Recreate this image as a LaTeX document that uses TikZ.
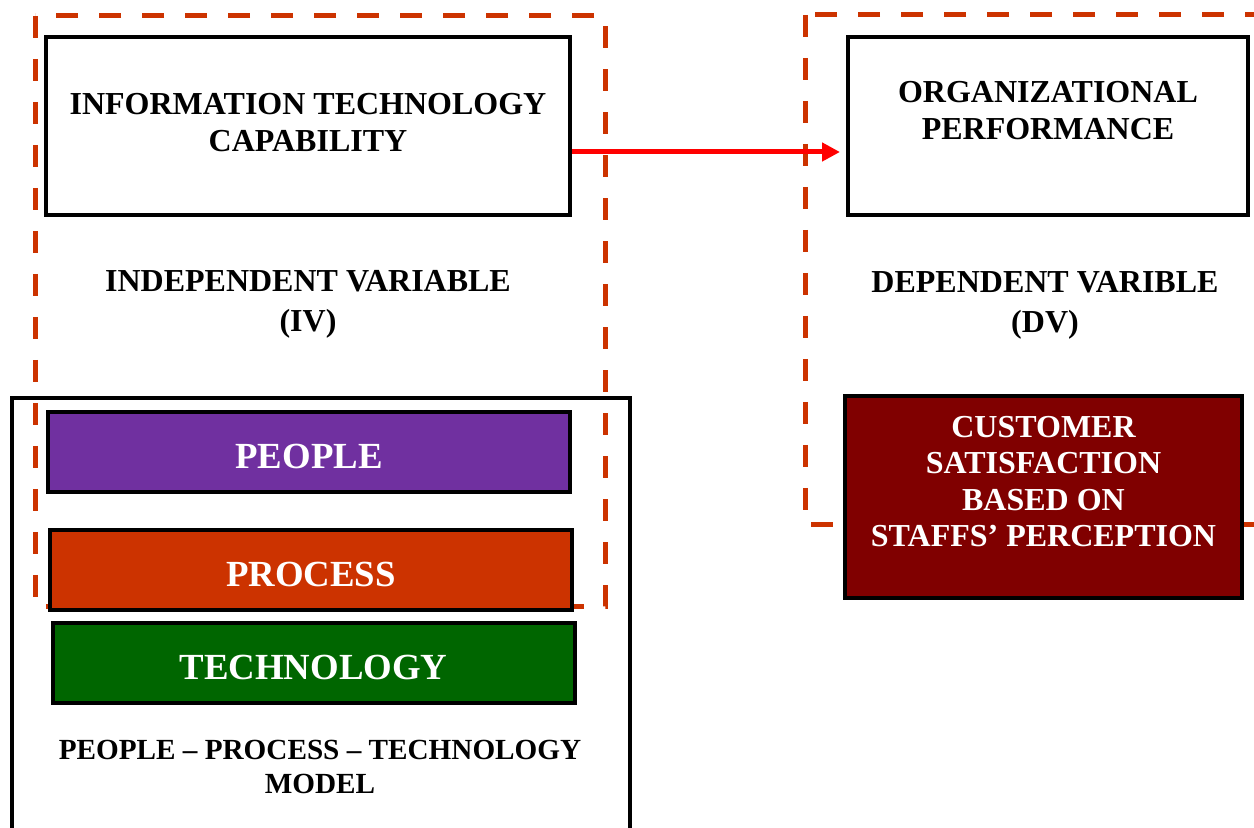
\documentclass[tikz,border=0pt]{standalone}
\usepackage{fontspec}
\setmainfont{Liberation Serif}
\usepackage{tikz}
\usetikzlibrary{arrows.meta}
\definecolor{dashred}{HTML}{CC3300}
\definecolor{peoplecol}{HTML}{7030A0}
\definecolor{processcol}{HTML}{CC3300}
\definecolor{techcol}{HTML}{006600}
\definecolor{custcol}{HTML}{800000}

\begin{document}
\begin{tikzpicture}[x=0.5pt,y=-0.5pt,>={Triangle[length=9pt,width=9pt]},
  dash box/.style={draw=dashred,line width=2.5pt,dash pattern=on 11pt off 10.5pt},
  main box/.style={draw,line width=2pt,inner sep=0pt,fill=white},
  box text/.style={align=center,font=\bfseries\fontsize{16}{18.5}\selectfont},
  ppt box/.style={draw,line width=2pt,inner sep=0pt,text=white,minimum width=261pt,minimum height=40pt,
    text height=16.5pt,text depth=0pt,font=\bfseries\fontsize{18.4}{22}\selectfont},
  var text/.style={align=center,font=\bfseries\fontsize{16}{20}\selectfont}]

  \clip (0,0) rectangle (1254,828);

  % dashed groups and model frame
  \draw[dash box] (35,16) rectangle (605,607);
  \draw[dash box] (805,15) rectangle (1300,525);
  \draw[line width=2.25pt] (12,398) rectangle (630,880);

  \node[main box,minimum width=262pt,minimum height=89pt,
        label={[box text,yshift=1.75pt]center:INFORMATION TECHNOLOGY\\CAPABILITY}] (itc) at (308,126) {};
  \node[main box,minimum width=200pt,minimum height=89pt,
        label={[box text,yshift=7.75pt]center:ORGANIZATIONAL\\PERFORMANCE}] (op) at (1048,126) {};

  \node[var text] (iv) at (308,304) {INDEPENDENT VARIABLE\\(IV)};
  \node[var text] (dv) at (1045,305) {DEPENDENT VARIBLE\\(DV)};

  \node[ppt box,fill=peoplecol] (people) at (309,452) {PEOPLE};
  \node[ppt box,fill=processcol] (process) at (311,570.5) {PROCESS};
  \node[ppt box,fill=techcol] (tech) at (313.5,663) {TECHNOLOGY};

  \node[align=center,font=\bfseries\fontsize{14.6}{17}\selectfont] (pptmodel) at (320,767)
    {PEOPLE – PROCESS – TECHNOLOGY\\MODEL};

  \node[draw,line width=2pt,inner sep=0pt,fill=custcol,minimum width=198.5pt,minimum height=101pt,
        label={[align=center,text=white,font=\bfseries\fontsize{16}{18.25}\selectfont,yshift=7.75pt]center:CUSTOMER\\SATISFACTION\\BASED ON\\STAFFS’ PERCEPTION}] (cust) at (1043.5,497) {};

  \draw[->,red,line width=2.5pt,shorten >=3pt] ([yshift=-13pt]itc.east) -- ([yshift=-13pt]op.west);

\end{tikzpicture}
\end{document}
